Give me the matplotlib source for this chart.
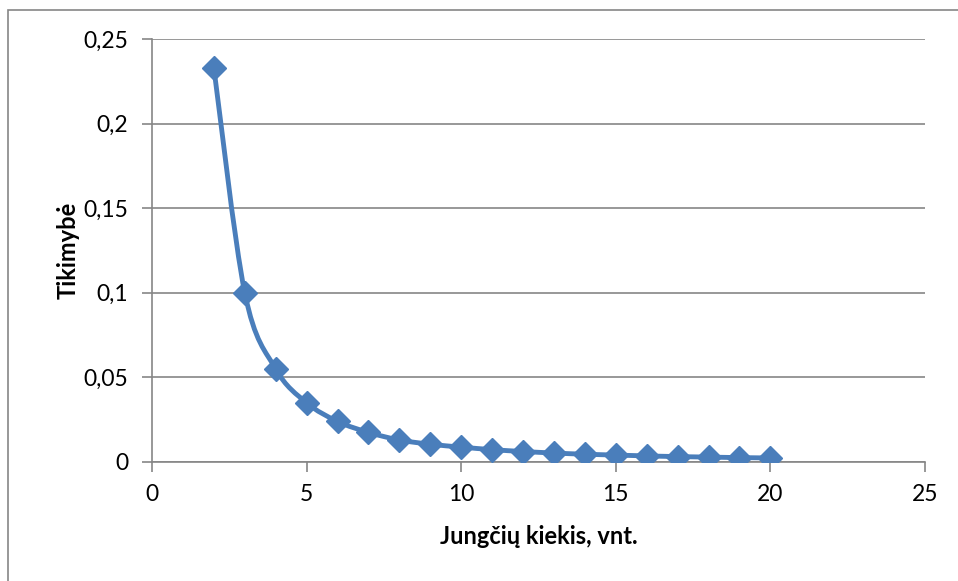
import numpy as np
import matplotlib.pyplot as plt
from matplotlib.path import Path
from matplotlib.patches import PathPatch, Rectangle
from matplotlib.ticker import FuncFormatter

jungtys = np.array([2, 3, 4, 5, 6, 7, 8, 9, 10, 11, 12, 13, 14, 15, 16, 17, 18, 19, 20])
tikimybe = np.array([0.233, 0.100, 0.055, 0.035, 0.024, 0.0175, 0.013, 0.0105, 0.0088, 0.0073,
                     0.0062, 0.0053, 0.0046, 0.0041, 0.0036, 0.0032, 0.0029, 0.0026, 0.0024])
x_ticks = [0, 5, 10, 15, 20, 25]
y_ticks = [0, 0.05, 0.1, 0.15, 0.2, 0.25]

spalva = '#4A7EBB'
pilka = '#868686'

plt.rcParams['font.family'] = ['Lato', 'DejaVu Sans']

fig = plt.figure(figsize=(9.58, 5.81), dpi=100)
ax = fig.add_axes([152 / 958, 1 - 462 / 581, (925 - 152) / 958, (462 - 39) / 581])

# remelis aplink diagrama (kaip Excel)
fig.patches.append(Rectangle((7.5 / 958, -0.1), 1.2, 1 - 9.5 / 581 + 0.1, transform=fig.transFigure,
                             fill=False, edgecolor=pilka, linewidth=1.2))

# glotni kreive (Catmull-Rom -> Bezier), kaip Excel "smoothed line"
pts = np.column_stack([jungtys, tikimybe])
verts = [pts[0]]
codes = [Path.MOVETO]
for i in range(len(pts) - 1):
    p0 = pts[max(i - 1, 0)]
    p1 = pts[i]
    p2 = pts[i + 1]
    p3 = pts[min(i + 2, len(pts) - 1)]
    c1 = p1 + (p2 - p0) / 6
    c2 = p2 - (p3 - p1) / 6
    verts += [c1, c2, p2]
    codes += [Path.CURVE4] * 3
ax.add_patch(PathPatch(Path(verts, codes), facecolor='none', edgecolor=spalva, linewidth=3.5,
                       capstyle='round', joinstyle='round', zorder=3))
ax.plot(jungtys, tikimybe, linestyle='none', marker='D', markersize=12, color=spalva, zorder=4)

ax.set_xlim(0, 25)
ax.set_ylim(0, 0.25)
ax.set_xticks(x_ticks)
ax.set_yticks(y_ticks)
ax.yaxis.set_major_formatter(FuncFormatter(lambda v, p: ('%g' % v).replace('.', ',')))
ax.grid(True, axis='y', color=pilka, linewidth=1.2)
ax.set_axisbelow(True)

for s in ['top', 'right']:
    ax.spines[s].set_visible(False)
for s in ['left', 'bottom']:
    ax.spines[s].set_color(pilka)
    ax.spines[s].set_linewidth(1.2)
ax.tick_params(axis='both', direction='out', length=7, width=1.2, color=pilka, labelsize=16.5)
ax.tick_params(axis='x', pad=9)
ax.tick_params(axis='y', pad=10)

ax.set_xlabel('Jungčių kiekis, vnt.', fontsize=17, fontweight='bold', labelpad=14)
ax.set_ylabel('Tikimybė', fontsize=17, fontweight='bold', labelpad=3)

fig.savefig('out.png', dpi=100)
